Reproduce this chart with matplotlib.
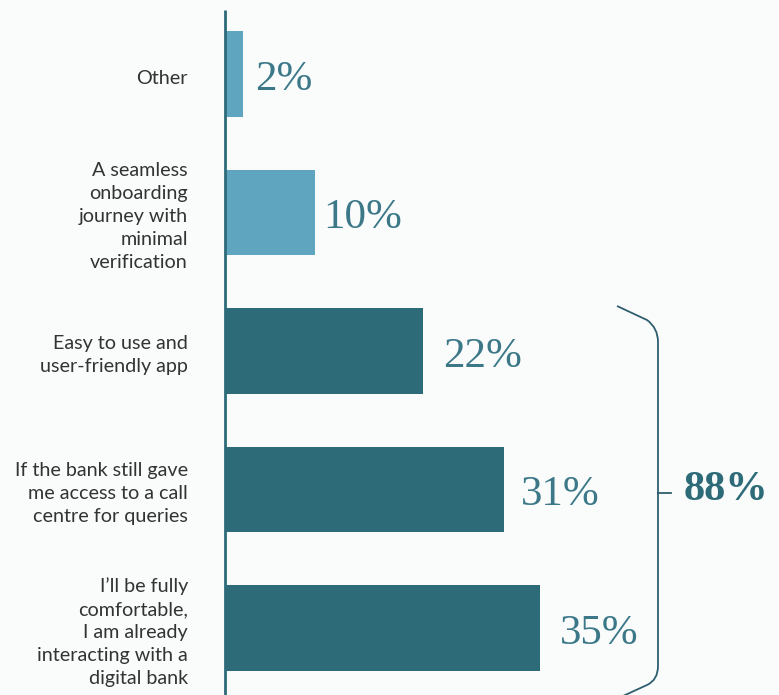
import matplotlib
matplotlib.use("Agg")
import matplotlib.pyplot as plt
from matplotlib.path import Path
from matplotlib.patches import PathPatch
from matplotlib.transforms import Affine2D

categories = [
    "Other",
    "A seamless\nonboarding\njourney with\nminimal\nverification",
    "Easy to use and\nuser-friendly app",
    "If the bank still gave\nme access to a call\ncentre for queries",
    "I\u2019ll be fully\ncomfortable,\nI am already\ninteracting with a\ndigital bank",
]
values = [2, 10, 22, 31, 35]
group_total_label = "88%"

W, H = 779, 695
BG = "#FAFCFC"
LIGHT = "#5FA5BF"
DARK = "#2E6B79"
PCT_COLOR = "#3C7888"
TEXT = "#333333"

fig = plt.figure(figsize=(W / 100, H / 100), dpi=100, facecolor=BG)
x0 = 225
px_per_pct = 9.0
ax = fig.add_axes([x0 / W, 0, (W - x0) / W, 1])
ax.set_facecolor(BG)
ax.set_xlim(0, (W - x0) / px_per_pct)
top_c, step = 74, 138.5
ax.set_ylim((H - top_c) / step, -top_c / step)
ax.axis("off")

colors = [LIGHT, LIGHT, DARK, DARK, DARK]
ypos = list(range(len(values)))
ax.barh(ypos, values, height=0.62, color=colors, zorder=2)

# vertical baseline
ax.plot([0, 0], [(10 - top_c) / step, (H - top_c) / step], color=DARK,
        lw=2, solid_capstyle="butt", clip_on=False, zorder=3)

label_offsets = [1.3, 0.9, 2.2, 1.9, 2.2]
for y, v, off in zip(ypos, values, label_offsets):
    ax.text(v + off, y + 0.04, f"{v}%", ha="left", va="center",
            fontsize=31, family="Liberation Serif", color=PCT_COLOR,
            fontweight="light")

for y, c in zip(ypos, categories):
    ax.text(-(x0 - 188) / px_per_pct, y + 0.03, c, ha="right", va="center",
            fontsize=14.2, family="Lato", color=TEXT, linespacing=1.44,
            clip_on=False)

# bracket around the bottom three answers (pixel coordinates)
pix = Affine2D().scale(1 / W, -1 / H).translate(0, 1) + fig.transFigure
verts = [(617, 306), (647, 320), (658, 328), (658, 342),
         (658, 666), (658, 680), (647, 685), (623, 696)]
codes = [Path.MOVETO, Path.LINETO, Path.CURVE3, Path.CURVE3,
         Path.LINETO, Path.CURVE3, Path.CURVE3, Path.LINETO]
fig.patches.append(PathPatch(Path(verts, codes), transform=pix,
                             fill=False, edgecolor="#2F5E6E", lw=1.3))
fig.lines.append(plt.Line2D([658, 671], [493, 493], transform=pix,
                            color="#2F5E6E", lw=1.3))
fig.text(726 / W, 1 - 490 / H, group_total_label, ha="center", va="center",
         fontsize=30.5, family="Liberation Serif", fontweight="bold",
         color=DARK)

fig.savefig("out.png", dpi=100, facecolor=BG)
